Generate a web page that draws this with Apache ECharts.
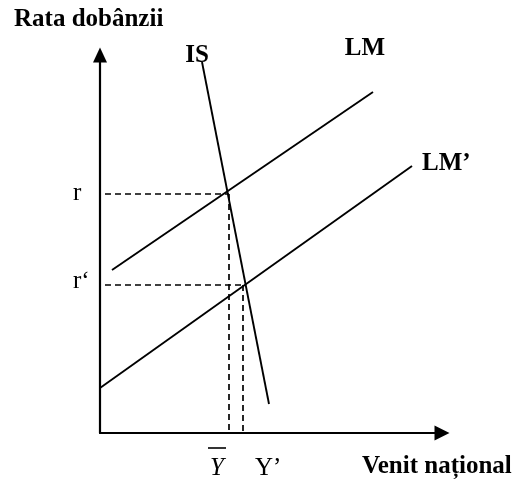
<!DOCTYPE html>
<html>
<head>
<meta charset="utf-8">
<script src="https://cdn.jsdelivr.net/npm/echarts@6/dist/echarts.min.js"></script>
<style>
  html, body { margin: 0; padding: 0; background: #fff; }
  #chart { width: 517px; height: 485px; }
</style>
</head>
<body>
<div id="chart"></div>
<script>
// Curves, in axis units (income on x, interest rate on y)
const isCurve = [[102, 371], [169, 29]];
const lmCurve = [[12, 163], [273, 341]];
const lmPrimeCurve = [[0, 45], [312, 267]];

// Equilibrium levels: r, r' and Y, Y'
const rateLevels = [239, 148];
const incomeLevels = [129, 143];
const dashStart = 5;

const xMax = 342;
const yMax = 378;

const chart = echarts.init(document.getElementById('chart'));

const solid = { color: '#000', width: 1.9 };
const dashed = { color: '#000', width: 1.7, type: [6, 4] };

const lineSeries = (data, style) => ({
  type: 'line',
  data: data,
  symbol: 'none',
  silent: true,
  lineStyle: style,
});

const series = [
  lineSeries(isCurve, solid),
  lineSeries(lmCurve, solid),
  lineSeries(lmPrimeCurve, solid),
];
rateLevels.forEach((r, i) => {
  const y = incomeLevels[i];
  series.push(lineSeries([[dashStart, r], [y, r]], dashed));
  series.push(lineSeries([[y, r], [y, 0]], dashed));
});

const serif = '"Liberation Serif", "Times New Roman", serif';
const txt = (text, x, y, font, align) => ({
  type: 'text',
  x: x,
  y: y,
  style: {
    text: text,
    fill: '#000',
    font: font,
    textAlign: align || 'center',
    textVerticalAlign: 'middle',
  },
});
const bold = 'bold 25px ' + serif;
const reg = '25px ' + serif;

chart.setOption({
  animation: false,
  grid: { left: 100, right: 75, top: 55, bottom: 52 },
  xAxis: {
    type: 'value',
    min: 0,
    max: xMax,
    axisLine: {
      lineStyle: { color: '#000', width: 2.2 },
      symbol: ['none', 'triangle'],
      symbolSize: [15, 15],
    },
    axisTick: { show: false },
    axisLabel: { show: false },
    splitLine: { show: false },
  },
  yAxis: {
    type: 'value',
    min: 0,
    max: yMax,
    axisLine: {
      show: true,
      lineStyle: { color: '#000', width: 2.2 },
      symbol: ['none', 'triangle'],
      symbolSize: [14, 15],
    },
    axisTick: { show: false },
    axisLabel: { show: false },
    splitLine: { show: false },
  },
  series: series,
  graphic: [
    txt('Rata dobânzii', 14, 20, bold, 'left'),
    txt('IS', 197, 56, bold),
    txt('LM', 365, 49, bold),
    txt('LM\u2019', 422, 164, bold, 'left'),
    txt('r', 73, 193, reg, 'left'),
    txt('r\u2018', 73, 281, reg, 'left'),
    txt('Y', 217, 468, 'italic ' + reg),
    { type: 'line', shape: { x1: 208, y1: 448, x2: 226, y2: 448 }, style: { stroke: '#000', lineWidth: 1.6 } },
    txt('Y\u2019', 255, 468, reg, 'left'),
    txt('Venit na\u021Bional', 362, 467, bold, 'left'),
  ],
});
</script>
</body>
</html>
